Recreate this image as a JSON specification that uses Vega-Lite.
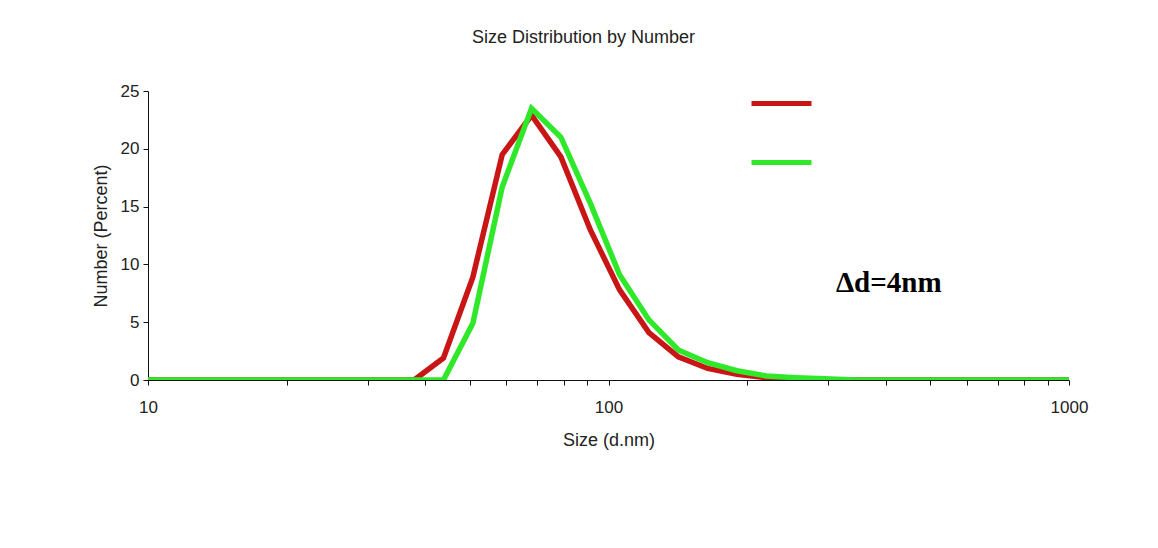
{
  "$schema": "https://vega.github.io/schema/vega-lite/v6.json",
  "width": 921,
  "height": 289,
  "autosize": {"type": "none"},
  "padding": {"left": 148, "top": 91, "right": 89, "bottom": 168},
  "background": "white",
  "title": {
    "text": "Size Distribution by Number",
    "font": "Liberation Sans",
    "fontSize": 18,
    "fontWeight": "normal",
    "color": "#222",
    "frame": "group",
    "anchor": "middle",
    "baseline": "alphabetic",
    "offset": 10,
    "dx": -25
  },
  "config": {
    "view": {"stroke": null},
    "axis": {
      "labelFont": "Liberation Sans",
      "labelFontSize": 17,
      "labelColor": "#222",
      "titleFont": "Liberation Sans",
      "titleFontSize": 18,
      "titleFontWeight": "normal",
      "titleColor": "#222",
      "domainColor": "#111",
      "tickColor": "#111",
      "grid": false,
      "tickSize": 5,
      "labelFlush": false
    }
  },
  "datasets": {
    "curves": [
      {"size": 10, "pct": 0, "sample": "Sample 1"},
      {"size": 32.67, "pct": 0, "sample": "Sample 1"},
      {"size": 37.84, "pct": 0, "sample": "Sample 1"},
      {"size": 43.82, "pct": 1.9, "sample": "Sample 1"},
      {"size": 50.75, "pct": 8.9, "sample": "Sample 1"},
      {"size": 58.77, "pct": 19.5, "sample": "Sample 1"},
      {"size": 68.06, "pct": 22.9, "sample": "Sample 1"},
      {"size": 78.82, "pct": 19.3, "sample": "Sample 1"},
      {"size": 91.28, "pct": 13.0, "sample": "Sample 1"},
      {"size": 105.7, "pct": 7.8, "sample": "Sample 1"},
      {"size": 122.4, "pct": 4.1, "sample": "Sample 1"},
      {"size": 141.8, "pct": 2.0, "sample": "Sample 1"},
      {"size": 164.2, "pct": 1.0, "sample": "Sample 1"},
      {"size": 190.1, "pct": 0.5, "sample": "Sample 1"},
      {"size": 220.2, "pct": 0.2, "sample": "Sample 1"},
      {"size": 255.0, "pct": 0.05, "sample": "Sample 1"},
      {"size": 295.3, "pct": 0, "sample": "Sample 1"},
      {"size": 1000, "pct": 0, "sample": "Sample 1"},
      {"size": 10, "pct": 0, "sample": "Sample 2"},
      {"size": 37.84, "pct": 0, "sample": "Sample 2"},
      {"size": 43.82, "pct": 0, "sample": "Sample 2"},
      {"size": 50.75, "pct": 4.9, "sample": "Sample 2"},
      {"size": 58.77, "pct": 16.7, "sample": "Sample 2"},
      {"size": 68.06, "pct": 23.5, "sample": "Sample 2"},
      {"size": 78.82, "pct": 21.0, "sample": "Sample 2"},
      {"size": 91.28, "pct": 15.3, "sample": "Sample 2"},
      {"size": 105.7, "pct": 9.1, "sample": "Sample 2"},
      {"size": 122.4, "pct": 5.2, "sample": "Sample 2"},
      {"size": 141.8, "pct": 2.6, "sample": "Sample 2"},
      {"size": 164.2, "pct": 1.5, "sample": "Sample 2"},
      {"size": 190.1, "pct": 0.8, "sample": "Sample 2"},
      {"size": 220.2, "pct": 0.35, "sample": "Sample 2"},
      {"size": 255.0, "pct": 0.2, "sample": "Sample 2"},
      {"size": 295.3, "pct": 0.1, "sample": "Sample 2"},
      {"size": 342.0, "pct": 0, "sample": "Sample 2"},
      {"size": 1000, "pct": 0, "sample": "Sample 2"}
    ],
    "note": [
      {"label": "Δd=4nm", "size": 406, "pct": 8.4}
    ]
  },
  "layer": [
    {
      "data": {"name": "curves"},
      "mark": {"type": "line", "strokeWidth": 5.5, "clip": true},
      "encoding": {
        "x": {
          "field": "size",
          "type": "quantitative",
          "scale": {"type": "log", "domain": [10, 1000], "nice": false},
          "axis": {
            "title": "Size (d.nm)",
            "values": [10, 20, 30, 40, 50, 60, 70, 80, 90, 100, 200, 300, 400, 500, 600, 700, 800, 900, 1000],
            "labelExpr": "(datum.value == 10 || datum.value == 100 || datum.value == 1000) ? datum.value + '' : ''",
            "labelPadding": 14,
            "titlePadding": 16
          }
        },
        "y": {
          "field": "pct",
          "type": "quantitative",
          "scale": {"domain": [0, 25], "nice": false},
          "axis": {
            "title": "Number (Percent)",
            "values": [0, 2.5, 5, 7.5, 10, 12.5, 15, 17.5, 20, 22.5, 25],
            "labelExpr": "datum.value % 5 == 0 ? datum.value + '' : ''",
            "labelPadding": 4,
            "titlePadding": 10
          }
        },
        "color": {
          "field": "sample",
          "type": "nominal",
          "scale": {"domain": ["Sample 1", "Sample 2"], "range": ["#c81616", "#2fe82a"]},
          "legend": {
            "orient": "none",
            "legendX": 601,
            "legendY": -20,
            "title": null,
            "symbolType": "stroke",
            "symbolSize": 3600,
            "symbolStrokeWidth": 5,
            "labelExpr": "''",
            "rowPadding": 16,
            "padding": 0
          }
        }
      }
    },
    {
      "data": {"name": "note"},
      "mark": {"type": "text", "font": "Liberation Serif", "fontSize": 29, "fontWeight": "bold", "color": "#000", "align": "center", "baseline": "middle"},
      "encoding": {
        "x": {"field": "size", "type": "quantitative"},
        "y": {"field": "pct", "type": "quantitative"},
        "text": {"field": "label", "type": "nominal"}
      }
    }
  ]
}
